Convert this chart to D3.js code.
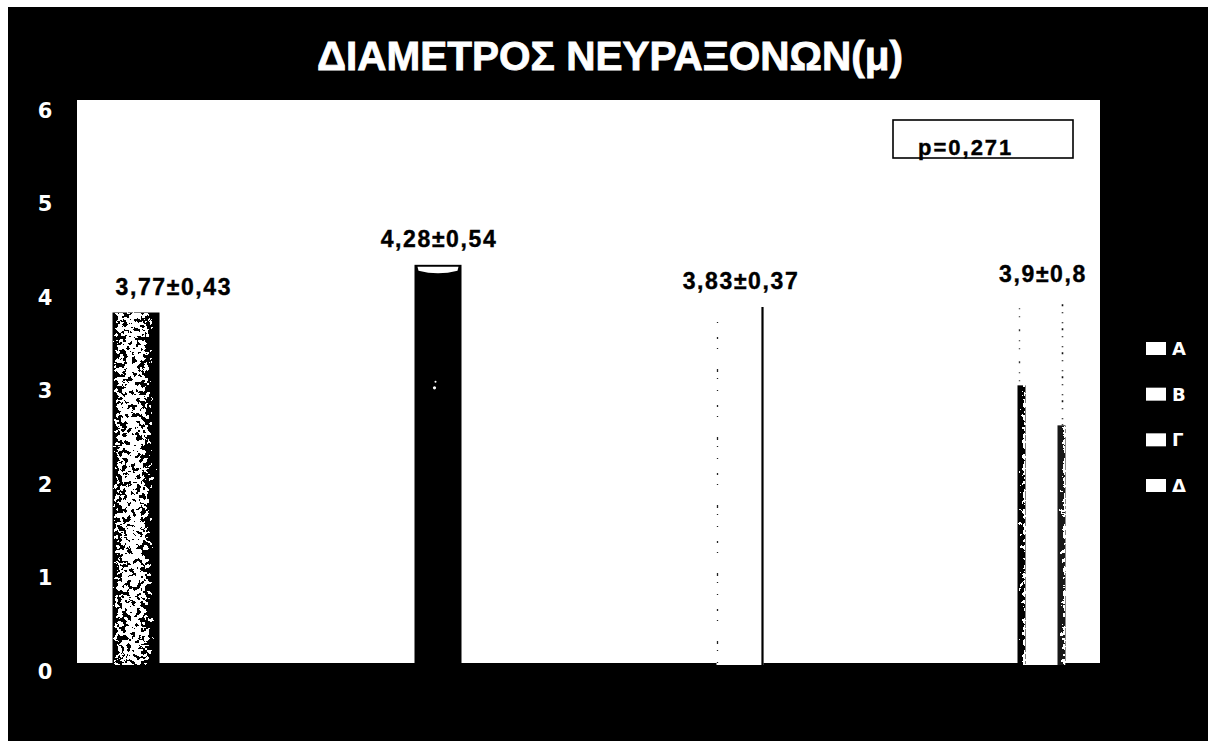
<!DOCTYPE html>
<html>
<head>
<meta charset="utf-8">
<script src="https://cdn.jsdelivr.net/npm/d3@7"></script>
<style>
  html, body { margin: 0; padding: 0; background: #ffffff; }
  svg { display: block; }
</style>
</head>
<body>
<svg id="chart" width="1208" height="741"></svg>
<script>
// Axon diameter per group (μ): mean and standard deviation
const groups = ["A", "B", "Γ", "Δ"];
const means = [3.77, 4.28, 3.83, 3.9];
const sds = [0.43, 0.54, 0.37, 0.8];
const yTicks = [0, 1, 2, 3, 4, 5, 6];
const titleText = "ΔΙΑΜΕΤΡΟΣ ΝΕΥΡΑΞΟΝΩΝ(μ)";
const pText = "p=0,271";

const W = 1208, H = 741;
const plot = { left: 77, right: 1100, top: 100, bottom: 663 };
const barW = 47;

const svg = d3.select("#chart");
const defs = svg.append("defs");

// speckled texture: gray gradient + noise, thresholded to black/white
const grad = defs.append("linearGradient").attr("id", "gradA").attr("x1", 0).attr("x2", 1).attr("y1", 0).attr("y2", 0);
[[0, 0.25], [0.1, 0.62], [0.45, 0.80], [0.72, 0.62], [0.86, 0.30], [1, 0.05]].forEach(([o, g]) => {
  const c = Math.round(g * 255);
  grad.append("stop").attr("offset", o).attr("stop-color", `rgb(${c},${c},${c})`);
});
const gradE = defs.append("linearGradient").attr("id", "gradE").attr("x1", 0).attr("x2", 1).attr("y1", 0).attr("y2", 0);
[[0, 0.15], [0.5, 0.35], [1, 0.85]].forEach(([o, g]) => {
  const c = Math.round(g * 255);
  gradE.append("stop").attr("offset", o).attr("stop-color", `rgb(${c},${c},${c})`);
});
const f = defs.append("filter").attr("id", "speckle").attr("x", 0).attr("y", 0).attr("width", 1).attr("height", 1)
  .attr("color-interpolation-filters", "sRGB");
f.append("feTurbulence").attr("type", "fractalNoise").attr("baseFrequency", 0.22).attr("numOctaves", 3).attr("seed", 7).attr("result", "noise");
f.append("feColorMatrix").attr("in", "noise").attr("type", "matrix")
  .attr("values", "1 0 0 0 0  1 0 0 0 0  1 0 0 0 0  0 0 0 0 1").attr("result", "gray");
f.append("feComposite").attr("in", "SourceGraphic").attr("in2", "gray").attr("operator", "arithmetic")
  .attr("k1", 0).attr("k2", 1.5).attr("k3", 2.2).attr("k4", -1.55).attr("result", "sum");
const ct = f.append("feComponentTransfer").attr("in", "sum").attr("result", "bw");
["feFuncR", "feFuncG", "feFuncB"].forEach(n => ct.append(n).attr("type", "discrete").attr("tableValues", "0 1"));
ct.append("feFuncA").attr("type", "linear").attr("slope", 0).attr("intercept", 1);
f.append("feComposite").attr("in", "bw").attr("in2", "SourceAlpha").attr("operator", "in");

// backgrounds
svg.append("rect").attr("x", 0).attr("y", 0).attr("width", W).attr("height", H).attr("fill", "#fff");
svg.append("rect").attr("x", 8).attr("y", 7).attr("width", W - 8).attr("height", H - 7).attr("fill", "#000");
svg.append("rect").attr("x", plot.left).attr("y", plot.top)
  .attr("width", plot.right - plot.left).attr("height", plot.bottom - plot.top).attr("fill", "#fff");

// scales
const x = d3.scalePoint().domain(groups).range([136, 1042]);
const y = d3.scaleLinear().domain([0, 6]).range([665, 104]);

// title
svg.append("text")
  .attr("x", 610).attr("y", 70)
  .attr("text-anchor", "middle")
  .attr("fill", "#fff")
  .attr("font-family", "'Liberation Sans', Arial, sans-serif")
  .attr("font-weight", "bold")
  .attr("font-size", 40)
  .attr("stroke", "#fff").attr("stroke-width", 0.8)
  .attr("textLength", 586)
  .attr("lengthAdjust", "spacingAndGlyphs")
  .text(titleText);

// y axis labels
const yAxis = d3.axisLeft(y).tickValues(yTicks).tickSize(0).tickFormat(d3.format("d"));
const ya = svg.append("g").attr("transform", "translate(52,0)").call(yAxis);
ya.select(".domain").remove();
ya.selectAll("text")
  .attr("fill", "#fff")
  .attr("x", -7)
  .attr("dy", null)
  .attr("dominant-baseline", "central")
  .attr("transform", "translate(0,6)")
  .attr("text-anchor", "middle")
  .attr("font-family", "'DejaVu Sans', Verdana, sans-serif")
  .attr("font-weight", "bold")
  .attr("font-size", 21);

// bars
const bars = svg.append("g");
groups.forEach((g, i) => {
  const x0 = x(g) - barW / 2;
  const yt = y(means[i]);
  const h = y(0) - yt;
  if (i === 0) {
    bars.append("rect").attr("x", x0).attr("y", yt).attr("width", barW).attr("height", h)
      .attr("fill", "url(#gradA)").attr("filter", "url(#speckle)");
  } else if (i === 1) {
    bars.append("rect").attr("x", x0).attr("y", yt).attr("width", barW).attr("height", h).attr("fill", "#000");
    bars.append("path")
      .attr("d", `M${x0 + 3},${yt + 2} L${x0 + barW - 3},${yt + 2} L${x0 + barW - 4},${yt + 6} Q${x0 + barW / 2},${yt + 11} ${x0 + 4},${yt + 6} Z`)
      .attr("fill", "#fff");
    bars.append("circle").attr("cx", x0 + 20).attr("cy", yt + 123).attr("r", 1.6).attr("fill", "#fff");
    bars.append("circle").attr("cx", x0 + 21).attr("cy", yt + 117).attr("r", 1).attr("fill", "#fff");
  } else if (i === 2) {
    bars.append("rect").attr("x", x0).attr("y", yt).attr("width", barW).attr("height", h).attr("fill", "#fff");
    bars.append("line").attr("x1", x0 + barW - 1).attr("x2", x0 + barW - 1).attr("y1", yt).attr("y2", y(0))
      .attr("stroke", "#000").attr("stroke-width", 2.2);
    bars.append("line").attr("x1", x0 + 1).attr("x2", x0 + 1).attr("y1", yt + 15).attr("y2", y(0))
      .attr("stroke", "#222").attr("stroke-width", 1.3).attr("stroke-dasharray", "1 14 2 9 1 20 3 6 1 11");
  } else {
    bars.append("rect").attr("x", x0).attr("y", yt).attr("width", barW).attr("height", h).attr("fill", "#fff");
    const mid = yt + 85;
    // left edge: sparse near the top, dense speckle lower down
    bars.append("line").attr("x1", x0 + 1).attr("x2", x0 + 1).attr("y1", yt + 8).attr("y2", mid)
      .attr("stroke", "#333").attr("stroke-width", 1.4).attr("stroke-dasharray", "1 7 1 12 2 9");
    bars.append("rect").attr("x", x0 - 1).attr("y", mid).attr("width", 8).attr("height", y(0) - mid)
      .attr("fill", "url(#gradE)").attr("filter", "url(#speckle)");
    // right edge: dotted, denser toward the base
    bars.append("line").attr("x1", x0 + barW - 3).attr("x2", x0 + barW - 3).attr("y1", yt + 4).attr("y2", mid + 40)
      .attr("stroke", "#111").attr("stroke-width", 1.6).attr("stroke-dasharray", "2 6 1 9 1 5");
    bars.append("rect").attr("x", x0 + barW - 8).attr("y", mid + 40).attr("width", 8).attr("height", y(0) - mid - 40)
      .attr("fill", "url(#gradE)").attr("filter", "url(#speckle)").attr("opacity", 0.9);
  }
});

// value labels (mean ± sd)
const fmt = v => String(v).replace(".", ",");
svg.append("g").selectAll("text")
  .data(groups)
  .join("text")
  .attr("x", (g, i) => i === 0 ? x(g) - barW / 2 + 3 : x(g) + 1)
  .attr("y", (g, i) => y(means[i]) - 18)
  .attr("text-anchor", (g, i) => i === 0 ? "start" : "middle")
  .attr("fill", "#000")
  .attr("stroke", "#000").attr("stroke-width", 0.4)
  .attr("font-family", "'Liberation Sans', Arial, sans-serif")
  .attr("font-weight", "bold")
  .attr("font-size", 23)
  .attr("letter-spacing", 1.6)
  .text((g, i) => `${fmt(means[i])}±${fmt(sds[i])}`);

// p-value box
svg.append("rect").attr("x", 893).attr("y", 120).attr("width", 180).attr("height", 38)
  .attr("fill", "#fff").attr("stroke", "#000").attr("stroke-width", 1.6);
svg.append("text")
  .attr("x", 918).attr("y", 155)
  .attr("fill", "#000")
  .attr("stroke", "#000").attr("stroke-width", 0.4)
  .attr("font-family", "'Liberation Sans', Arial, sans-serif")
  .attr("font-weight", "bold")
  .attr("font-size", 22)
  .attr("letter-spacing", 2)
  .text(pText);

// legend
const legendY = d3.scalePoint().domain(groups).range([348, 485]);
const lg = svg.append("g");
lg.selectAll("rect").data(groups).join("rect")
  .attr("x", 1146).attr("y", g => legendY(g) - 6).attr("width", 20).attr("height", 13).attr("fill", "#fff");
lg.selectAll("text").data(groups).join("text")
  .attr("x", 1172).attr("y", g => legendY(g) + 7)
  .attr("fill", "#fff")
  .attr("font-family", "'DejaVu Sans', Verdana, sans-serif")
  .attr("font-weight", "bold")
  .attr("font-size", 18)
  .text(g => g);
</script>
</body>
</html>
